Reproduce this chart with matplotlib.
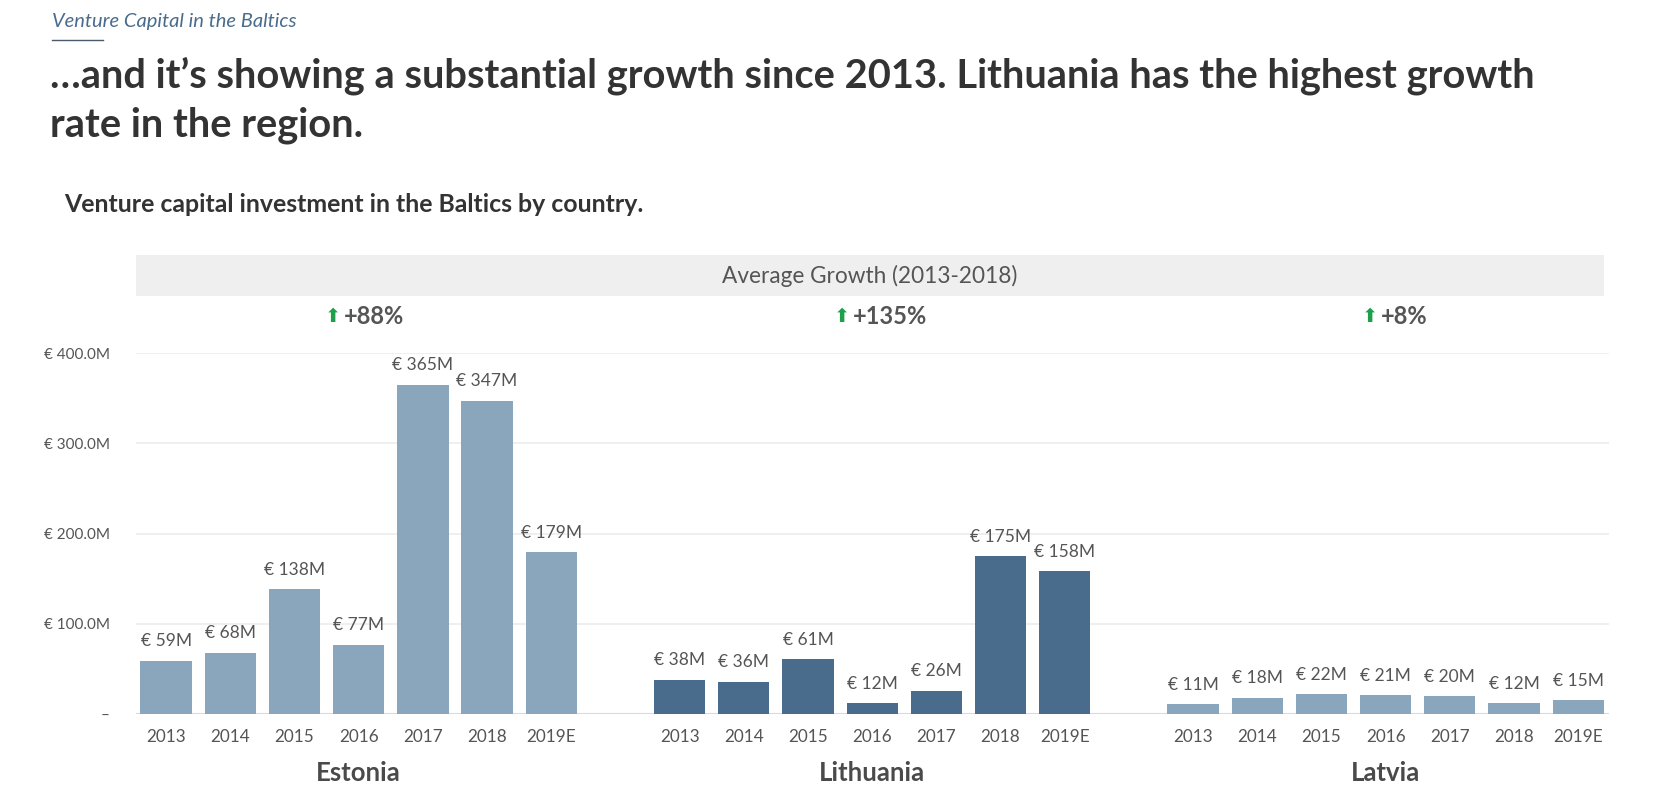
import matplotlib
matplotlib.use("Agg")
import matplotlib.pyplot as plt
from matplotlib.transforms import blended_transform_factory

# ---------------- data ----------------
years = ["2013", "2014", "2015", "2016", "2017", "2018", "2019E"]
countries = ["Estonia", "Lithuania", "Latvia"]
estonia = [59, 68, 138, 77, 365, 347, 179]
lithuania = [38, 36, 61, 12, 26, 175, 158]
latvia = [11, 18, 22, 21, 20, 12, 15]
growth = ["+88%", "+135%", "+8%"]
y_ticks = [0, 100, 200, 300, 400]
y_tick_labels = ["–", "€ 100.0M", "€ 200.0M", "€ 300.0M", "€ 400.0M"]

series = [estonia, lithuania, latvia]
colors = ["#8AA6BD", "#4A6C8C", "#8AA6BD"]

W, H = 1653, 808
plt.rcParams['font.family'] = ['Lato', 'DejaVu Sans']
fig = plt.figure(figsize=(W / 100, H / 100), dpi=100)
fig.patch.set_facecolor("white")

def fx(px):
    return px / W

def fy(py):
    return 1 - py / H

# axes: baseline at y=714, 400M grid at y=353, x from 136 to 1609
ax = fig.add_axes([fx(136), fy(714), fx(1609) - fx(136), fy(353) - fy(714)])
ax.set_ylim(0, 400)
ax.set_xlim(-0.47, 22.48)
for s in ax.spines.values():
    s.set_visible(False)
ax.set_yticks(y_ticks)
ax.set_yticklabels(y_tick_labels)
ax.tick_params(axis="y", length=0, pad=19, labelsize=11, labelcolor="#555555")
ax.grid(axis="y", color="#ECECEC", linewidth=1.2)
ax.set_axisbelow(True)
ax.axhline(0, color="#DADADA", linewidth=1.5, zorder=1)

xt, xl = [], []
for gi, (vals, col) in enumerate(zip(series, colors)):
    xs = [gi * 8 + i for i in range(len(vals))]
    ax.bar(xs, vals, width=0.8, color=col, zorder=2)
    for x, v in zip(xs, vals):
        ax.annotate(f"€ {v}M", (x, v), xytext=(0, 14), textcoords="offset points",
                    ha="center", va="center", fontsize=12.5, color="#555555")
    xt += xs
    xl += years

ax.set_xticks(xt)
ax.set_xticklabels(xl)
ax.tick_params(axis="x", length=0, pad=11, labelsize=12.3, labelcolor="#555555")

# country labels
tr = blended_transform_factory(ax.transData, fig.transFigure)
for gi, c in enumerate(countries):
    ax.text(gi * 8 + 3, fy(773), c, transform=tr, ha="center", va="center",
            fontsize=18.5, fontweight="bold", color="#4A4A4A")

# grey header band
band = plt.Rectangle((fx(136), fy(296)), fx(1604) - fx(136), fy(255) - fy(296),
                     transform=fig.transFigure, facecolor="#EFEFEF", edgecolor="none")
fig.patches.append(band)
fig.text(fx(870), fy(276), "Average Growth (2013-2018)", ha="center", va="center",
         fontsize=16.3, color="#555555")

# growth indicators
text_starts = [344, 853, 1381]
for g, xs in zip(growth, text_starts):
    fig.text(fx(xs - 19), fy(316), "⬆", ha="left", va="center", fontsize=14,
             color="#1EA04B", family=["DejaVu Sans"])
    fig.text(fx(xs), fy(317), g, ha="left", va="center", fontsize=17,
             fontweight="bold", color="#555555")

# header texts
fig.text(fx(52), fy(22), "Venture Capital in the Baltics", ha="left", va="center",
         fontsize=14.5, style="italic", color="#4A6C8C")
fig.add_artist(plt.Line2D([fx(52), fx(103)], [fy(40), fy(40)], color="#4A5A6A",
                          linewidth=1, transform=fig.transFigure))
fig.text(fx(50), fy(76), "…and it’s showing a substantial growth since 2013. Lithuania has the highest growth",
         ha="left", va="center", fontsize=28.7, fontweight="bold", color="#333333")
fig.text(fx(50), fy(125), "rate in the region.",
         ha="left", va="center", fontsize=28.7, fontweight="bold", color="#333333")
fig.text(fx(64), fy(205), "Venture capital investment in the Baltics by country.",
         ha="left", va="center", fontsize=17.9, fontweight="bold", color="#333333")

fig.savefig("out.png", dpi=100, facecolor="white")
